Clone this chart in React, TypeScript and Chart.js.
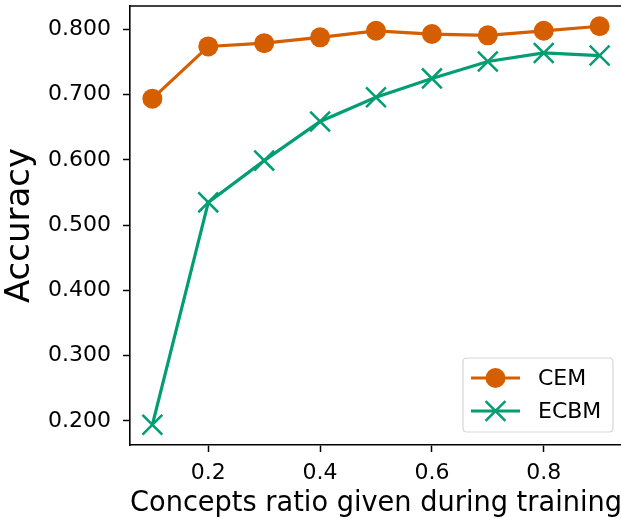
import React, { useEffect, useRef } from "react";
import { Chart, registerables } from "chart.js";

Chart.register(...registerables);

const ratios = [0.1, 0.2, 0.3, 0.4, 0.5, 0.6, 0.7, 0.8, 0.9];
const cemValues = [0.694, 0.774, 0.779, 0.788, 0.798, 0.793, 0.791, 0.798, 0.805];
const ecbmValues = [0.194, 0.535, 0.599, 0.659, 0.696, 0.725, 0.751, 0.764, 0.760];
const xTicks = [0.2, 0.4, 0.6, 0.8];
const yTicks = [0.2, 0.3, 0.4, 0.5, 0.6, 0.7, 0.8];
const seriesNames = ["CEM", "ECBM"];
const seriesColors = ["#d55e00", "#029e73"];

const FONT = "'DejaVu Sans', sans-serif";

const framePlugin = {
  id: "frameAndLegend",
  afterDraw(chart: any) {
    const { ctx, chartArea } = chart;
    ctx.save();
    // top spine (right spine lies outside the visible window)
    ctx.strokeStyle = "#000";
    ctx.lineWidth = 1.6;
    ctx.beginPath();
    ctx.moveTo(chartArea.left - 0.8, chartArea.top);
    ctx.lineTo(chartArea.right + 0.8, chartArea.top);
    ctx.stroke();

    // legend (matplotlib-like)
    const bx = 463, by = 358, bw = 150, bh = 74, r = 4;
    ctx.globalAlpha = 0.8;
    ctx.fillStyle = "#fff";
    ctx.strokeStyle = "#cccccc";
    ctx.lineWidth = 1.2;
    ctx.beginPath();
    ctx.moveTo(bx + r, by);
    ctx.lineTo(bx + bw - r, by);
    ctx.quadraticCurveTo(bx + bw, by, bx + bw, by + r);
    ctx.lineTo(bx + bw, by + bh - r);
    ctx.quadraticCurveTo(bx + bw, by + bh, bx + bw - r, by + bh);
    ctx.lineTo(bx + r, by + bh);
    ctx.quadraticCurveTo(bx, by + bh, bx, by + bh - r);
    ctx.lineTo(bx, by + r);
    ctx.quadraticCurveTo(bx, by, bx + r, by);
    ctx.closePath();
    ctx.fill();
    ctx.stroke();
    ctx.globalAlpha = 1;

    const rows = [378, 411];
    chart.data.datasets.forEach((ds: any, i: number) => {
      const y = rows[i];
      ctx.strokeStyle = ds.borderColor;
      ctx.lineWidth = ds.borderWidth;
      ctx.beginPath();
      ctx.moveTo(471, y);
      ctx.lineTo(520, y);
      ctx.stroke();
      ctx.fillStyle = ds.pointBackgroundColor;
      ctx.strokeStyle = ds.pointBorderColor;
      ctx.lineWidth = ds.pointBorderWidth;
      if (ds.pointStyle === "circle") {
        ctx.beginPath();
        ctx.arc(495.5, y, ds.pointRadius, 0, Math.PI * 2);
        ctx.fill();
      } else {
        const o = ds.pointRadius * Math.SQRT1_2;
        ctx.beginPath();
        ctx.moveTo(495.5 - o, y - o);
        ctx.lineTo(495.5 + o, y + o);
        ctx.moveTo(495.5 - o, y + o);
        ctx.lineTo(495.5 + o, y - o);
        ctx.stroke();
      }
      ctx.fillStyle = "#000";
      ctx.font = `22px ${FONT}`;
      ctx.textBaseline = "middle";
      ctx.textAlign = "left";
      ctx.fillText(ds.label, 538, y + 1);
    });
    ctx.restore();
  },
};

export default function App() {
  const ref = useRef<HTMLCanvasElement>(null);
  useEffect(() => {
    if (!ref.current) return;
    const chart = new Chart(ref.current, {
      type: "line",
      data: {
        datasets: [
          {
            label: seriesNames[0],
            data: ratios.map((x, i) => ({ x, y: cemValues[i] })),
            borderColor: seriesColors[0],
            backgroundColor: seriesColors[0],
            pointBackgroundColor: seriesColors[0],
            pointBorderColor: seriesColors[0],
            borderWidth: 3.2,
            pointStyle: "circle",
            pointRadius: 10,
            pointBorderWidth: 0,
            order: 2,
          },
          {
            label: seriesNames[1],
            data: ratios.map((x, i) => ({ x, y: ecbmValues[i] })),
            borderColor: seriesColors[1],
            backgroundColor: seriesColors[1],
            pointBackgroundColor: seriesColors[1],
            pointBorderColor: seriesColors[1],
            borderWidth: 3.2,
            pointStyle: "crossRot",
            pointRadius: 14,
            pointBorderWidth: 2.5,
            order: 1,
          },
        ],
      },
      options: {
        animation: false,
        responsive: false,
        layout: { autoPadding: false, padding: { left: 0, top: 6, right: 18, bottom: 0 } },
        plugins: { legend: { display: false }, tooltip: { enabled: false } },
        scales: {
          x: {
            type: "linear",
            min: 0.06,
            max: 0.94,
            afterBuildTicks: (s: any) => {
              s.ticks = xTicks.map((v) => ({ value: v }));
            },
            afterFit: (s: any) => {
              s.height = 74;
              s.paddingLeft = 0;
              s.paddingRight = 0;
            },
            ticks: {
              color: "#000",
              font: { family: FONT, size: 22 },
              padding: 8,
              maxRotation: 0,
              callback: (v: any) => Number(v).toFixed(1),
            },
            grid: {
              drawOnChartArea: false,
              drawTicks: true,
              tickLength: 7,
              tickWidth: 1.5,
              tickColor: "#000",
            },
            border: { display: true, color: "#000", width: 1.6 },
            title: {
              display: true,
              text: "Concepts ratio given during training",
              color: "#000",
              font: { family: FONT, size: 28, lineHeight: 1 },
              padding: { top: 0, bottom: 1 },
            },
          },
          y: {
            type: "linear",
            min: 0.163,
            max: 0.836,
            afterBuildTicks: (s: any) => {
              s.ticks = yTicks.map((v) => ({ value: v }));
            },
            afterFit: (s: any) => {
              s.width = 130;
              s.paddingTop = 0;
              s.paddingBottom = 0;
            },
            ticks: {
              color: "#000",
              font: { family: FONT, size: 22 },
              padding: 12,
              callback: (v: any) => Number(v).toFixed(3),
            },
            grid: {
              drawOnChartArea: false,
              drawTicks: true,
              tickLength: 7,
              tickWidth: 1.5,
              tickColor: "#000",
            },
            border: { display: true, color: "#000", width: 1.6 },
            title: {
              display: true,
              text: "Accuracy",
              color: "#000",
              font: { family: FONT, size: 34, lineHeight: 1.2 },
              padding: { top: 0, bottom: 0 },
            },
          },
        },
      },
      plugins: [framePlugin],
    });
    return () => chart.destroy();
  }, []);
  return (
    <div style={{ position: "absolute", left: 0, top: 0, width: 621, height: 519, overflow: "hidden", background: "#fff" }}>
      <canvas ref={ref} width={640} height={519} style={{ display: "block", width: 640, height: 519 }} />
    </div>
  );
}
